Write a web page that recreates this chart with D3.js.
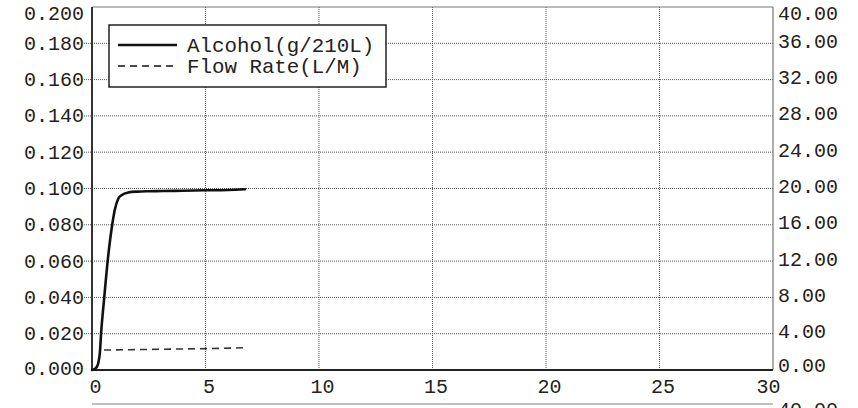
<!DOCTYPE html>
<html>
<head>
<meta charset="utf-8">
<style>
  body { margin: 0; background: #fff; }
  text { font-family: "Liberation Mono", "Courier New", monospace; font-size: 20px; fill: #222; }
</style>
</head>
<body>
<svg width="858" height="408"></svg>
<script src="https://d3js.org/d3.v7.min.js"></script>
<script>

// breath test trace: alcohol (left axis) and flow rate (right axis) vs time

var alcTime = [0, 0.1, 0.2, 0.28, 0.35, 0.4, 0.54, 0.69, 0.89, 1.0, 1.16, 1.3, 1.6, 2.0, 2.5, 3.1, 4.0, 5.0, 6.0, 6.74];
var alcValue = [0, 0.0005, 0.0015, 0.004, 0.01, 0.02, 0.04, 0.06, 0.08, 0.088, 0.0945, 0.0963, 0.0978, 0.0983, 0.0985, 0.0986, 0.0988, 0.099, 0.0992, 0.0996];

var flowTime = [0.53, 2.0, 3.5, 5.0, 6.74];
var flowValue = [2.2, 2.25, 2.3, 2.35, 2.45];

var xTicks = [0, 5, 10, 15, 20, 25, 30];
var yLeftTicks = [0, 0.02, 0.04, 0.06, 0.08, 0.1, 0.12, 0.14, 0.16, 0.18, 0.2];
var yRightTicks = [0, 4, 8, 12, 16, 20, 24, 28, 32, 36, 40];

var seriesNames = ["Alcohol(g/210L)", "Flow Rate(L/M)"];

var svg = d3.select("svg"),
    margin = {top: 7, right: 85, bottom: 38, left: 92},
    width = +svg.attr("width") - margin.left - margin.right,
    height = +svg.attr("height") - margin.top - margin.bottom,
    g = svg.append("g").attr("transform", "translate(" + margin.left + "," + margin.top + ")");

var x = d3.scaleLinear().domain([0, 30]).range([0, width]);
var y = d3.scaleLinear().domain([0, 0.2]).range([height, 0]);
var y2 = d3.scaleLinear().domain([0, 40]).range([height, 0]);

// grid
g.append("g")
    .selectAll("line")
    .data(yLeftTicks.slice(1, -1))
    .join("line")
      .attr("x1", -8).attr("x2", width)
      .attr("y1", function(d) { return y(d); })
      .attr("y2", function(d) { return y(d); })
      .attr("stroke", "#555")
      .attr("stroke-dasharray", "1,1");

g.append("g")
    .selectAll("line")
    .data(xTicks.slice(1, -1))
    .join("line")
      .attr("x1", function(d) { return x(d); })
      .attr("x2", function(d) { return x(d); })
      .attr("y1", 0).attr("y2", height)
      .attr("stroke", "#555")
      .attr("stroke-dasharray", "1,1");

// frame
g.append("line").attr("x1", 0).attr("x2", width).attr("y1", 0).attr("y2", 0)
    .attr("stroke", "#777").attr("stroke-width", 1.2);
g.append("line").attr("x1", width).attr("x2", width).attr("y1", 0).attr("y2", height)
    .attr("stroke", "#777").attr("stroke-width", 1.2);
g.append("line").attr("x1", 0).attr("x2", 0).attr("y1", 0).attr("y2", height)
    .attr("stroke", "#333").attr("stroke-width", 2);
g.append("line").attr("x1", 0).attr("x2", width).attr("y1", height).attr("y2", height)
    .attr("stroke", "#222").attr("stroke-width", 2);

// axes (labels only)
var left = g.append("g")
    .call(d3.axisLeft(y).tickValues(yLeftTicks).tickFormat(d3.format(".3f")).tickSize(0).tickPadding(8));
left.select(".domain").remove();
left.selectAll("text")
    .attr("dy", function(d) { return d === 0.2 ? "0.6em" : d === 0 ? "0.2em" : "0.3em"; });

var right = g.append("g")
    .attr("transform", "translate(" + width + ",0)")
    .call(d3.axisRight(y2).tickValues(yRightTicks).tickFormat(d3.format(".2f")).tickSize(0).tickPadding(5));
right.select(".domain").remove();
right.selectAll("text")
    .attr("dy", function(d) { return d === 40 ? "0.6em" : d === 0 ? "0.05em" : "0.2em"; });

var bottom = g.append("g")
    .attr("transform", "translate(0," + height + ")")
    .call(d3.axisBottom(x).tickValues(xTicks).tickSize(0).tickPadding(9));
bottom.select(".domain").remove();
bottom.selectAll("text")
    .attr("dx", function(d) { return d === 30 ? -5 : 3; });

// series
var alcohol = d3.line()
    .x(function(d, i) { return x(alcTime[i]); })
    .y(function(d) { return y(d); })
    .curve(d3.curveMonotoneX);

var flow = d3.line()
    .x(function(d, i) { return x(flowTime[i]); })
    .y(function(d) { return y2(d); });

g.append("path")
    .datum(flowValue)
    .attr("fill", "none")
    .attr("stroke", "#333")
    .attr("stroke-width", 1.6)
    .attr("stroke-dasharray", "7,5")
    .attr("d", flow);

g.append("path")
    .datum(alcValue)
    .attr("fill", "none")
    .attr("stroke", "#111")
    .attr("stroke-width", 2.6)
    .attr("stroke-linejoin", "round")
    .attr("stroke-linecap", "round")
    .attr("d", alcohol);

// legend
var legend = svg.append("g").attr("transform", "translate(109,25)");
legend.append("rect")
    .attr("width", 277).attr("height", 62)
    .attr("fill", "#fff").attr("stroke", "#222").attr("stroke-width", 1.5);

seriesNames.forEach(function(name, i) {
  var ly = 20 + i * 21;
  legend.append("line")
      .attr("x1", 9).attr("x2", 68).attr("y1", ly).attr("y2", ly)
      .attr("stroke", "#111")
      .attr("stroke-width", i === 0 ? 2.6 : 1.5)
      .attr("stroke-dasharray", i === 0 ? null : "7,5");
  legend.append("text")
      .attr("x", 78).attr("y", ly).attr("dy", "0.33em")
      .style("font-size", "20.8px")
      .text(name);
});

// top edge of the next chart, cut off by the page bottom
svg.append("line")
    .attr("x1", margin.left).attr("x2", margin.left + width).attr("y1", 404).attr("y2", 404)
    .attr("stroke", "#aaa").attr("stroke-width", 1.5);
svg.append("text")
    .attr("x", margin.left + width + 5).attr("y", 416)
    .text(d3.format(".2f")(yRightTicks[yRightTicks.length - 1]));

</script>
</body>
</html>
